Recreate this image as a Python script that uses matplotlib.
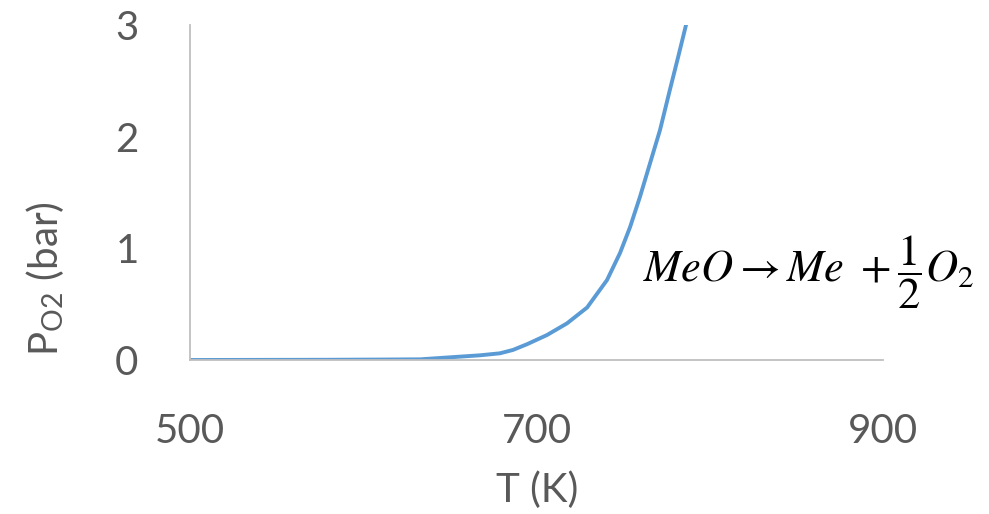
import matplotlib
matplotlib.use("Agg")
import matplotlib.pyplot as plt
from matplotlib.ticker import FixedLocator

T = [500, 540, 580, 610, 632.8, 644.3, 655.8, 667.4, 678.9, 686.4, 694.5, 706.1, 717.6, 729.2,
     740.7, 748.2, 754.0, 759.7, 765.5, 771.3, 777.0, 781.7, 786.3]
P = [0.0, 0.001, 0.002, 0.004, 0.006, 0.018, 0.030, 0.042, 0.060, 0.090, 0.141, 0.224, 0.328, 0.470,
     0.716, 0.958, 1.19, 1.46, 1.76, 2.06, 2.42, 2.71, 3.0]
x_ticks = [500, 700, 900]
y_ticks = [0, 1, 2, 3]

plt.rcParams['font.family'] = ['Lato', 'DejaVu Sans']
plt.rcParams['mathtext.fontset'] = 'stix'

fig = plt.figure(figsize=(9.89, 5.14), dpi=100)
ax = fig.add_axes([190/989, 1-360/514, (883-190)/989, (360-25)/514])
ax.plot(T, P, color='#5B9BD5', lw=2.8, solid_capstyle='round', solid_joinstyle='round')
ax.set_xlim(500, 900)
ax.set_ylim(0, 3)
ax.xaxis.set_major_locator(FixedLocator(x_ticks))
ax.yaxis.set_major_locator(FixedLocator(y_ticks))
for s in ['top', 'right']:
    ax.spines[s].set_visible(False)
for s in ['left', 'bottom']:
    ax.spines[s].set_color('#BFBFBF')
    ax.spines[s].set_linewidth(1.3)
ax.tick_params(axis='both', length=0, labelsize=29, colors='#595959')
ax.tick_params(axis='x', pad=38)
ax.tick_params(axis='y', pad=37)

fig.text(537/989, 1-490/514, 'T (K)', ha='center', va='center', fontsize=29, color='#595959')
fig.text(45/989, 1-279/514, r'P$_{\mathregular{O2}}$ (bar)', ha='center', va='center',
         rotation=90, fontsize=29, color='#595959')

ax.text(761.5, 0.79, r'$MeO \rightarrow Me\ + \dfrac{1}{2}O_2$', ha='left', va='center',
        fontsize=32, color='black', clip_on=False)

fig.savefig('out.png', dpi=100)
